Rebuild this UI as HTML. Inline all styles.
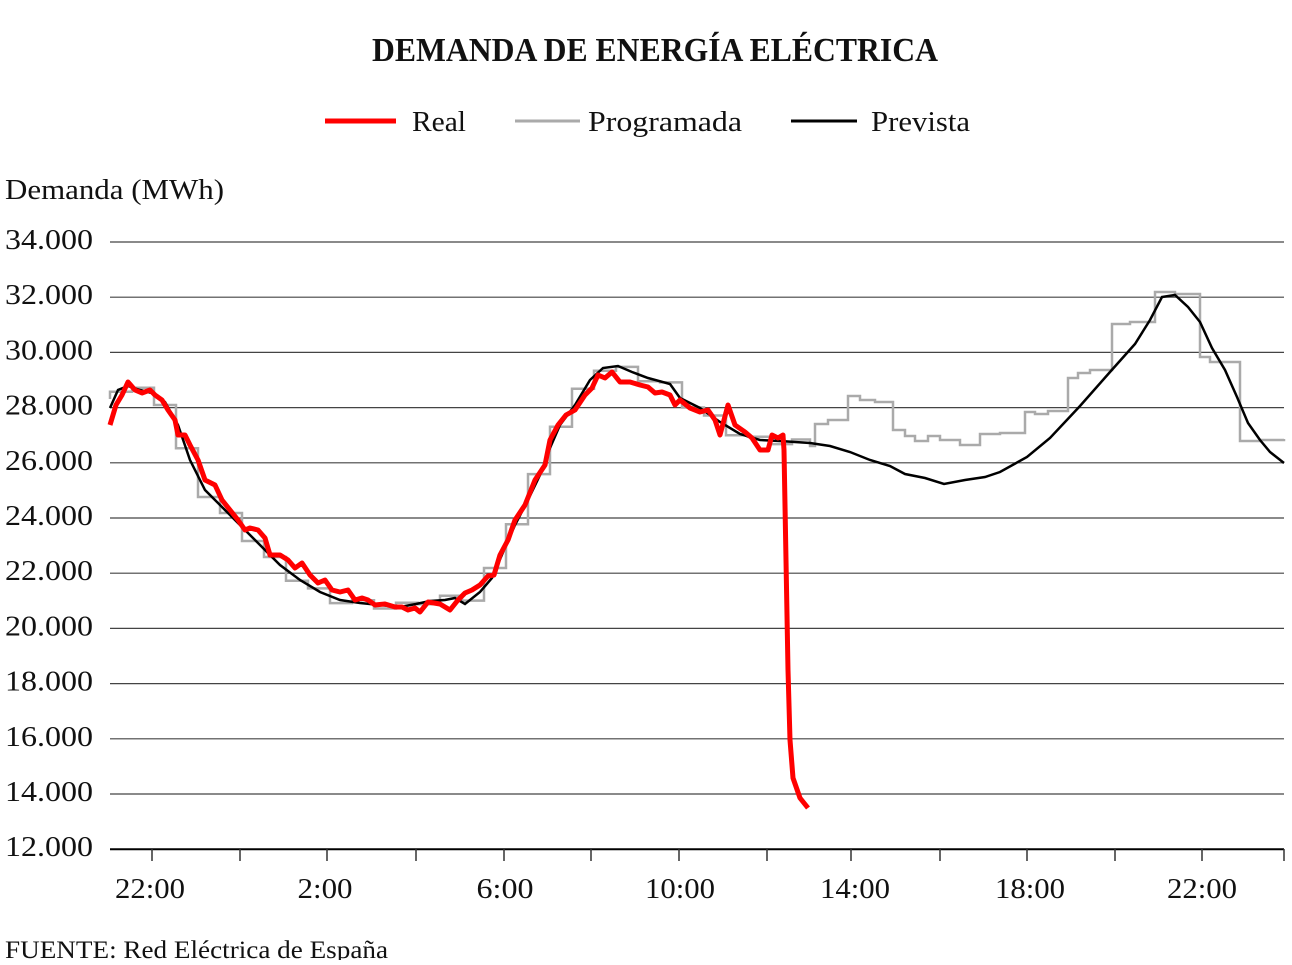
<!DOCTYPE html>
<html><head><meta charset="utf-8"><style>
body{margin:0;background:#fff}
svg text{font-family:"Liberation Serif",serif;fill:#111}
</style></head><body>
<svg id="s" width="1292" height="960" xmlns="http://www.w3.org/2000/svg">
<text x="372" y="61" font-size="34" font-weight="bold" textLength="566" lengthAdjust="spacingAndGlyphs">DEMANDA DE ENERGÍA ELÉCTRICA</text>
<line x1="325" y1="121" x2="396" y2="121" stroke="#f00" stroke-width="5"/>
<text x="412" y="131" font-size="29" textLength="54" lengthAdjust="spacingAndGlyphs">Real</text>
<line x1="515" y1="121" x2="580" y2="121" stroke="#aaa" stroke-width="3"/>
<text x="588" y="131" font-size="29" textLength="154" lengthAdjust="spacingAndGlyphs">Programada</text>
<line x1="791" y1="121" x2="857" y2="121" stroke="#000" stroke-width="3"/>
<text x="871" y="131" font-size="29" textLength="99" lengthAdjust="spacingAndGlyphs">Prevista</text>
<text x="5" y="199" font-size="29" textLength="219" lengthAdjust="spacingAndGlyphs">Demanda (MWh)</text>
<text x="5" y="958" font-size="25" textLength="383" lengthAdjust="spacingAndGlyphs">FUENTE: Red Eléctrica de España</text>
</svg>
<script>
const s=document.getElementById('s'),NS='http://www.w3.org/2000/svg';
function el(t,a,txt){const e=document.createElementNS(NS,t);for(const k in a)e.setAttribute(k,a[k]);if(txt)e.textContent=txt;s.appendChild(e);return e;}
for(let i=0;i<12;i++){const v=34000-i*2000,y=242+i*55.2;
el('line',{x1:110,x2:1284,y1:y,y2:y,stroke:i==11?'#000':'#444','stroke-width':i==11?2:1.2});
el('text',{x:5,y:y+7,'font-size':28,textLength:88,lengthAdjust:'spacingAndGlyphs'},(v/1000).toFixed(3));}
const ticks=[152,240,327,416,504,591,679,767,851,940,1027,1115,1202,1284];
ticks.forEach(x=>el('line',{x1:x,x2:x,y1:849,y2:861,stroke:'#333','stroke-width':1.5}));
[[150,'22:00',70],[325,'2:00',55],[505,'6:00',57],[680,'10:00',70],[855,'14:00',70],[1030,'18:00',70],[1202,'22:00',70]].forEach(([x,t,w])=>el('text',{x:x-w/2,y:898,'font-size':28,textLength:w,lengthAdjust:'spacingAndGlyphs'},t));
const B=[[110,408],[118,390],[128,386],[140,390],[152,393],[165,402],[178,425],[190,460],[205,490],[220,505],[240,525],[260,545],[280,565],[300,580],[320,592],[340,600],[360,603],[380,605],[400,607],[416,604],[430,601],[445,600],[455,598],[465,604],[480,592],[492,578],[504,550],[515,525],[528,500],[540,475],[550,448],[560,425],[575,405],[590,380],[603,368],[618,366],[632,372],[648,378],[670,384],[680,398],[700,408],[720,422],[740,434],[760,440],[780,441],[810,443],[830,446],[850,452],[870,460],[890,466],[905,474],[925,478],[944,484],[965,480],[985,477],[1000,472],[1027,457],[1050,438],[1080,406],[1110,372],[1135,344],[1150,320],[1162,297],[1175,295],[1188,307],[1200,322],[1212,348],[1225,370],[1237,397],[1248,423],[1260,440],[1270,452],[1284,463]];
function interp(x){for(let i=1;i<B.length;i++)if(B[i][0]>=x){const a=B[i-1],b=B[i];return a[1]+(b[1]-a[1])*(x-a[0])/(b[0]-a[0]);}return B[B.length-1][1];}
let gp='M110 '+interp(114).toFixed(1);
for(let x=110;x<810;x+=22){const y=interp(x+11)+((x/22)%2?3:-3);gp+=` H${x} V${y.toFixed(1)}`;}
const R=[[810,446],[815,424],[828,420],[848,396],[860,400],[875,402],[893,430],[905,436],[915,441],[928,436],[940,440],[960,445],[980,434],[1000,433],[1025,412],[1035,414],[1048,411],[1068,378],[1078,373],[1090,370],[1112,324],[1130,322],[1155,292],[1175,294],[1200,357],[1210,362],[1240,441],[1260,440],[1284,439]];
R.forEach(([x,y])=>gp+=` H${x} V${y}`);
el('path',{d:gp,fill:'none',stroke:'#aaa','stroke-width':2.5});
el('polyline',{points:B.map(p=>p.join(',')).join(' '),fill:'none',stroke:'#000','stroke-width':2.5});
const Rd=[[110,425],[116,405],[122,395],[128,382],[135,390],[142,393],[150,390],[155,395],[162,400],[168,410],[175,420],[178,435],[185,435],[190,445],[198,460],[205,480],[215,485],[222,500],[230,510],[238,520],[245,530],[250,528],[258,530],[265,538],[270,555],[280,555],[288,560],[295,568],[302,563],[310,575],[318,583],[325,580],[332,590],[340,592],[348,590],[355,600],[362,598],[368,600],[375,605],[385,604],[395,607],[402,607],[408,610],[415,608],[420,612],[428,602],[440,604],[450,610],[458,600],[465,593],[472,590],[480,585],[488,576],[494,575],[500,555],[508,540],[515,520],[525,505],[535,480],[545,465],[550,440],[558,425],[566,415],[575,410],[585,395],[592,388],[598,375],[605,378],[612,372],[620,382],[630,382],[640,385],[648,387],[655,393],[662,392],[670,395],[675,405],[680,400],[690,408],[700,412],[708,410],[715,420],[720,435],[728,405],[735,425],[745,432],[752,438],[760,450],[768,450],[772,435],[778,438],[783,435],[784,450],[786,560],[788,670],[790,740],[793,778],[800,798],[808,808]];
el('polyline',{points:Rd.map(p=>p.join(',')).join(' '),fill:'none',stroke:'#f00','stroke-width':5,'stroke-linejoin':'round'});
</script>
</body></html>
